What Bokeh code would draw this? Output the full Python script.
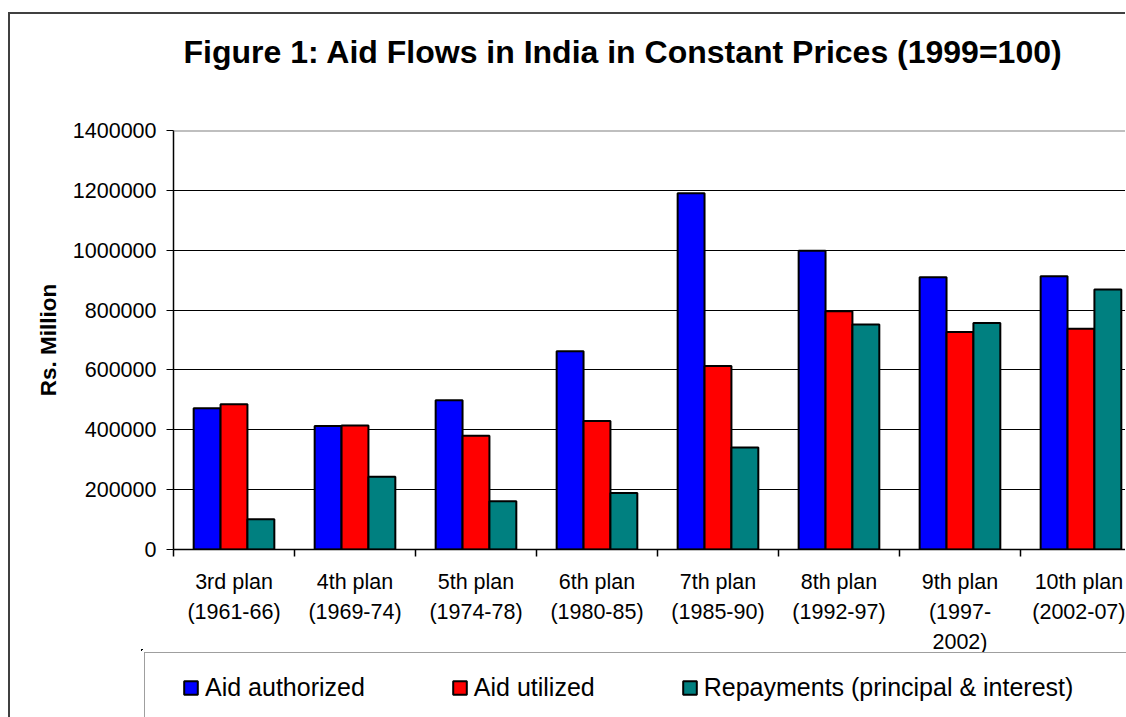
from bokeh.plotting import figure
from bokeh.models import (ColumnDataSource, Range1d, FixedTicker, BasicTickFormatter,
                          Legend, LegendItem, Span, Title)
from bokeh.embed import file_html
from bokeh.resources import INLINE
import numpy as np

# ---------------- data ----------------
categories = ["3rd plan\n(1961-66)", "4th plan\n(1969-74)", "5th plan\n(1974-78)",
              "6th plan\n(1980-85)", "7th plan\n(1985-90)", "8th plan\n(1992-97)",
              "9th plan\n(1997-\n2002)", "10th plan\n(2002-07)"]
aid_authorized = [472000, 413000, 499000, 662000, 1190000, 998000, 910000, 913000]
aid_utilized = [485000, 414000, 380000, 429000, 613000, 796000, 727000, 738000]
repayments = [101000, 243000, 161000, 189000, 341000, 752000, 757000, 869000]
series_names = ["Aid authorized", "Aid utilized", "Repayments (principal & interest)"]
series_colors = ["#0000FF", "#FF0000", "#008080"]
y_ticks = [0, 200000, 400000, 600000, 800000, 1000000, 1200000, 1400000]
title_text = "Figure 1: Aid Flows in India in Constant Prices (1999=100)"
y_label = "Rs. Million"

FONT = "Liberation Sans"
n = len(categories)
centers = np.arange(n) + 0.5
bar_w = 2.0 / 9.0
BORDER = "2px solid #404040"

# ---------------- main chart ----------------
p = figure(frame_width=952, frame_height=419, output_backend="svg", toolbar_location=None,
           x_range=Range1d(0, 7.868), y_range=Range1d(y_ticks[0], y_ticks[-1]),
           min_border_left=163, min_border_right=0, min_border_top=116,
           min_border_bottom=110, title=None)
p.outline_line_color = None
p.background_fill_color = "white"
p.border_fill_color = "white"
p.styles = {"position": "absolute", "left": "8px", "top": "12px",
            "border-left": BORDER, "border-top": BORDER}

sources = []
renderers = []
for k, (vals, col) in enumerate(zip([aid_authorized, aid_utilized, repayments], series_colors)):
    src = ColumnDataSource(dict(x=centers + (k - 1) * bar_w, top=vals))
    sources.append(src)
    r = p.vbar(x="x", top="top", bottom=0, width=bar_w, source=src,
               fill_color=col, line_color="black", line_width=2)
    renderers.append(r)

# top border line of plot area
p.add_layout(Span(location=y_ticks[-1], dimension="width", line_color="#808080", line_width=2))

# title (a blank spacer title sits between the real title and the frame)
p.add_layout(Title(text=" ", text_font_size="1px", standoff=56), "above")
p.add_layout(Title(text=title_text, align="left", offset=10, vertical_align="top",
                   standoff=0, text_font=FONT, text_font_size="32px",
                   text_font_style="bold", text_color="black"), "above")

# y axis
yax = p.yaxis[0]
yax.ticker = FixedTicker(ticks=y_ticks)
yax.formatter = BasicTickFormatter(use_scientific=False)
yax.major_tick_out = 7
yax.major_tick_in = 0
yax.minor_tick_line_color = None
yax.axis_line_color = "black"
yax.axis_line_width = 1.5
yax.major_label_text_font = FONT
yax.major_label_text_font_size = "21.5px"
yax.major_label_text_color = "black"
yax.major_label_standoff = 10
yax.axis_label = y_label
yax.axis_label_text_font = FONT
yax.axis_label_text_font_size = "22.5px"
yax.axis_label_text_font_style = "bold"
yax.axis_label_text_color = "black"
yax.axis_label_standoff = 9

# x axis: labels at centers, ticks at boundaries (minor)
xax = p.xaxis[0]
xax.ticker = FixedTicker(ticks=list(centers), minor_ticks=list(range(n + 1)))
xax.major_label_overrides = {float(c): lab for c, lab in zip(centers, categories)}
xax.major_tick_line_color = None
xax.major_tick_out = 0
xax.major_tick_in = 0
xax.minor_tick_out = 7
xax.minor_tick_in = 0
xax.minor_tick_line_color = "black"
xax.minor_tick_line_width = 1.5
xax.axis_line_color = "black"
xax.axis_line_width = 1.5
xax.major_label_text_font = FONT
xax.major_label_text_font_size = "21.5px"
xax.major_label_text_color = "black"
xax.major_label_text_line_height = 1.26
xax.major_label_standoff = 13

p.xgrid.grid_line_color = None
p.ygrid.ticker = FixedTicker(ticks=y_ticks)
p.ygrid.grid_line_color = "black"
p.ygrid.grid_line_width = 1

# ---------------- legend strip ----------------
# ranges chosen so that none of the bars fall inside this strip: only swatches show
lp = figure(width=1116, height=68, output_backend="svg", toolbar_location=None,
            x_range=Range1d(100, 101), y_range=Range1d(-2, -1),
            x_axis_location=None, y_axis_location=None,
            min_border_left=131, min_border_right=0, min_border_top=0, min_border_bottom=0)
lp.outline_line_color = None
lp.xgrid.visible = False
lp.ygrid.visible = False
lp.background_fill_alpha = 0
lp.border_fill_alpha = 0
lp.styles = {"position": "absolute", "left": "8px", "top": "649px", "border-left": BORDER}

leg_renderers = []
for src, col in zip(sources, series_colors):
    leg_renderers.append(lp.vbar(x="x", top="top", bottom=0, width=bar_w, source=src,
                                 fill_color=col, line_color="black", line_width=2))
box_renderer = lp.vbar(x="x", top="top", bottom=0, width=bar_w, source=sources[0],
                       fill_alpha=0, line_alpha=0)

legend_box = Legend(items=[LegendItem(label=" ", renderers=[box_renderer])],
                    location="top_left", margin=3, padding=30, label_width=1100,
                    glyph_width=17, glyph_height=17,
                    label_text_font=FONT, label_text_font_size="25px",
                    border_line_color="#404040", border_line_width=1.5,
                    background_fill_color="white", background_fill_alpha=1.0)
lp.add_layout(legend_box, "center")

legend = Legend(items=[LegendItem(label=nm, renderers=[r]) for nm, r in zip(series_names, leg_renderers)],
                orientation="horizontal", location=(41, 15),
                label_text_font=FONT, label_text_font_size="25px", label_text_color="black",
                glyph_width=17, glyph_height=17, label_standoff=6, label_height=30,
                spacing=86, padding=0, margin=0,
                border_line_color=None, background_fill_alpha=0)
lp.add_layout(legend, "center")

open("out.html", "w").write(file_html([p, lp], INLINE))
